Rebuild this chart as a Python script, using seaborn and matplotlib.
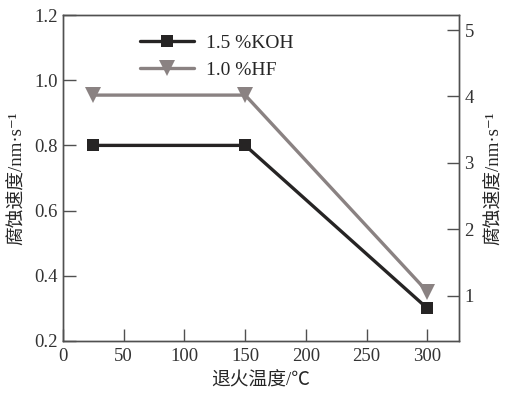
import numpy as np
import pandas as pd
import matplotlib
matplotlib.use("Agg")
import matplotlib.pyplot as plt
import seaborn as sns

# data
temps = [25, 150, 300]
koh_rate = [0.80, 0.80, 0.30]      # left axis
hf_rate = [4.02, 4.02, 1.06]       # right axis
labels = ["1.5 %KOH", "1.0 %HF"]

sns.set_style("ticks")
plt.rcParams['font.family'] = ['Liberation Serif', 'Noto Sans CJK SC', 'DejaVu Serif']
plt.rcParams['font.size'] = 13.5

df_koh = pd.DataFrame({"T": temps, "v": koh_rate})
df_hf = pd.DataFrame({"T": temps, "v": hf_rate})

fig = plt.figure(figsize=(5.08, 3.99), dpi=100)
ax = fig.add_axes([0.124, 0.1454, 0.7795, 0.817])
ax2 = ax.twinx()

c_koh = "#262424"
c_hf = "#8a8282"
sns.lineplot(data=df_koh, x="T", y="v", ax=ax, color=c_koh, lw=2.4,
             marker="s", markersize=9, markeredgewidth=0, label=labels[0], legend=False)
sns.lineplot(data=df_hf, x="T", y="v", ax=ax2, color=c_hf, lw=2.4,
             marker="v", markersize=11, markeredgewidth=0, label=labels[1], legend=False)

ax.set_xlim(0, 326)
ax.set_ylim(0.2, 1.2)
ax2.set_ylim(0.318, 5.226)
ax.set_xticks([0, 50, 100, 150, 200, 250, 300])
ax.set_yticks([0.2, 0.4, 0.6, 0.8, 1.0, 1.2])
ax.set_yticklabels(["0.2", "0.4", "0.6", "0.8", "1.0", "1.2"])
ax2.set_yticks([1, 2, 3, 4, 5])

ylab = "腐蚀速度/nm·s⁻¹"
ax.set_xlabel("退火温度/℃", fontsize=13.5, labelpad=5)
ax.set_ylabel(ylab, fontsize=13.5, labelpad=6)
ax2.set_ylabel(ylab, fontsize=13.5, labelpad=8)

spine_c = "#505050"
for a in (ax, ax2):
    for s in a.spines.values():
        s.set_color(spine_c)
        s.set_linewidth(1.0)
    a.tick_params(direction="in", length=9, width=1, color=spine_c, labelsize=13.5, colors="#333333")
ax.tick_params(axis="x", pad=5)
ax.tick_params(axis="y", pad=4)
ax2.tick_params(axis="y", pad=4)

h1, l1 = ax.get_legend_handles_labels()
h2, l2 = ax2.get_legend_handles_labels()
ax.legend(h1 + h2, l1 + l2, loc="upper left", bbox_to_anchor=(0.15, 0.995),
          frameon=False, fontsize=14, handlelength=2.8, handletextpad=0.6,
          labelspacing=0.5)

fig.savefig("out.png", dpi=100)
